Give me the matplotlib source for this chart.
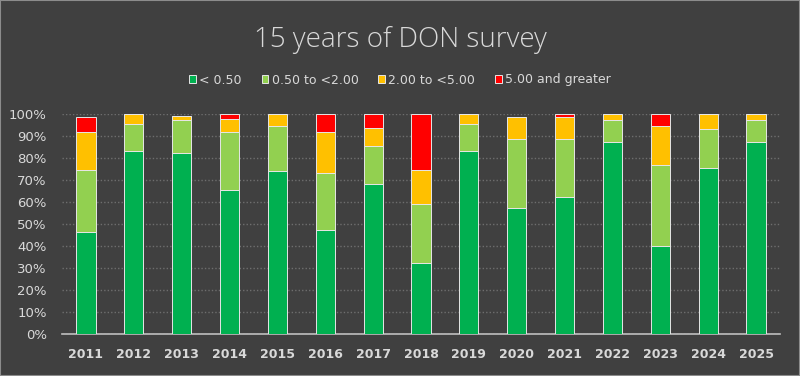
import matplotlib.pyplot as plt
from matplotlib.patches import Rectangle
import numpy as np

years = ["2011", "2012", "2013", "2014", "2015", "2016", "2017", "2018",
         "2019", "2020", "2021", "2022", "2023", "2024", "2025"]
below_050 = [46.5, 83.2, 82.3, 65.5, 74.3, 47.5, 68.4, 32.4, 83.4, 57.5, 62.5, 87.3, 40.2, 75.3, 87.3]
from_050_to_2 = [28.1, 12.4, 15.1, 26.2, 20.3, 25.9, 17.2, 26.9, 12.2, 31.0, 26.0, 10.1, 36.4, 18.0, 10.1]
from_2_to_5 = [17.2, 4.4, 1.5, 5.9, 5.4, 18.3, 7.9, 15.3, 4.4, 10.3, 10.3, 2.6, 18.1, 6.7, 2.6]
five_plus = [6.7, 0, 0, 2.4, 0, 8.3, 6.5, 25.4, 0, 0, 1.2, 0, 5.3, 0, 0]

series = [
    ("< 0.50", below_050, "#00B050"),
    ("0.50 to <2.00", from_050_to_2, "#92D050"),
    ("2.00 to <5.00", from_2_to_5, "#FFC000"),
    ("5.00 and greater", five_plus, "#FF0000"),
]

bg = "#404040"
txt = "#D9D9D9"

fig = plt.figure(figsize=(8, 3.76), dpi=100, facecolor=bg)
ax = fig.add_axes([62 / 800, 1 - 334 / 376, 718 / 800, 220 / 376])
ax.set_facecolor(bg)

x = np.arange(len(years))
bottom = np.zeros(len(years))
for name, vals, col in series:
    vals = np.array(vals) / 100
    ax.bar(x, vals, 0.4, bottom=bottom, color=col, edgecolor="#E6E6E6",
           linewidth=0.7, label=name, zorder=3)
    bottom += vals

ax.set_xlim(-0.5, len(years) - 0.5)
ax.set_ylim(0, 1)
ticks = np.arange(0, 1.01, 0.1)
ax.set_yticks(ticks)
ax.set_yticklabels([f"{int(round(v * 100))}%" for v in ticks], fontsize=9.5)
ax.set_xticks(x)
ax.set_xticklabels(years, fontweight="bold", fontsize=9)
ax.tick_params(axis="y", length=0, colors=txt, pad=11)
ax.tick_params(axis="x", length=0, colors=txt, pad=10)
ax.grid(axis="y", color="#6E6E6E", linestyle=(0, (1, 1.5)), linewidth=1, zorder=0)
for s in ["top", "right", "left"]:
    ax.spines[s].set_visible(False)
ax.spines["bottom"].set_color("#BFBFBF")
ax.spines["bottom"].set_linewidth(1.2)

fig.text(0.5, 1 - 40 / 376, "15 years of DON survey", ha="center", va="center",
         fontsize=20, color=txt, family="Open Sans", fontweight="light")
fig.legend(loc="center", bbox_to_anchor=(0.5, 1 - 80 / 376), ncol=4, frameon=False,
           fontsize=9, labelcolor=txt,
           handlelength=0.55, handleheight=0.55, handletextpad=0.25, columnspacing=1.6)

fig.patches.append(Rectangle((0, 0), 1, 1, transform=fig.transFigure, fill=False,
                             edgecolor="#8C8C8C", linewidth=1.5))

plt.savefig("out.png", dpi=100, facecolor=bg)
